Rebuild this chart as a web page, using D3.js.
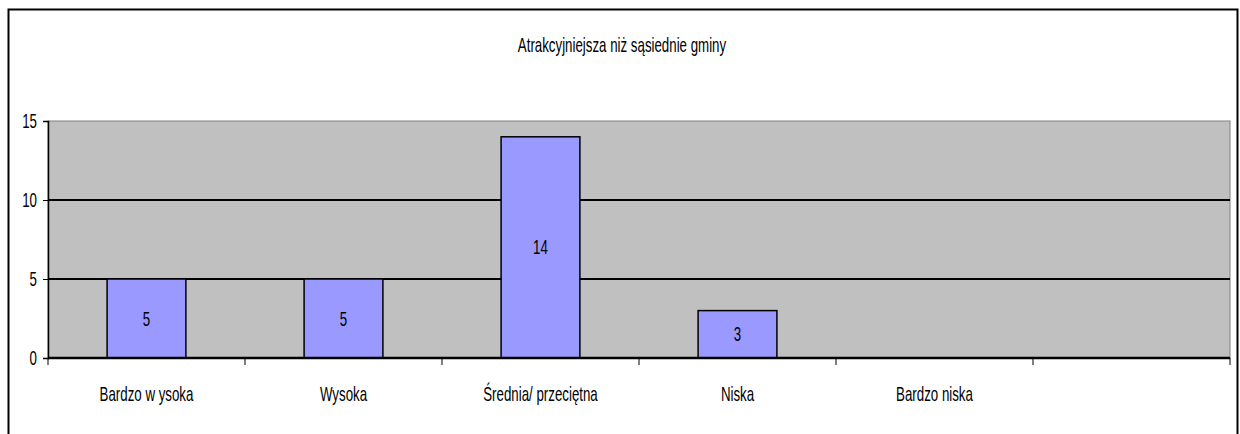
<!DOCTYPE html>
<html lang="pl">
<head>
<meta charset="UTF-8">
<title>Atrakcyjniejsza niż sąsiednie gminy</title>
<script src="https://d3js.org/d3.v7.min.js"></script>
<style>
  body { margin: 0; background: #fff; }
  svg text { font-family: "Liberation Sans", Arial, sans-serif; font-size: 20px; fill: #000; }
</style>
</head>
<body>
<svg width="1240" height="434"></svg>
<script>
  // data
  const title = "Atrakcyjniejsza niż sąsiednie gminy";
  const categories = ["Bardzo w ysoka", "Wysoka", "Średnia/ przeciętna", "Niska", "Bardzo niska", ""];
  const values = [5, 5, 14, 3, null, null];
  const yTicks = [0, 5, 10, 15];

  const svg = d3.select("svg");
  const plot = { left: 48, top: 121, right: 1230, bottom: 358 };
  const narrow = 0.665; // squeeze text horizontally, like Arial Narrow

  // narrow text helper
  function ntext(g, x, y, anchor, str) {
    return g.append("text")
      .attr("transform", `translate(${x},${y}) scale(${narrow},1)`)
      .attr("text-anchor", anchor)
      .text(str);
  }

  // outer frame
  svg.append("rect")
    .attr("x", 8.5).attr("y", 9.5)
    .attr("width", 1229).attr("height", 440)
    .attr("fill", "none").attr("stroke", "#000").attr("stroke-width", 2);

  ntext(svg, 622, 52, "middle", title);

  const x = d3.scaleBand()
    .domain(d3.range(categories.length))
    .range([plot.left, plot.right])
    .paddingInner(0.6).paddingOuter(0.3);

  const y = d3.scaleLinear().domain([0, 15]).range([plot.bottom, plot.top]);

  // plot area
  svg.append("rect")
    .attr("x", plot.left).attr("y", plot.top)
    .attr("width", plot.right - plot.left).attr("height", plot.bottom - plot.top)
    .attr("fill", "#c0c0c0").attr("stroke", "#808080").attr("stroke-width", 1);

  // gridlines
  svg.append("g").selectAll("line")
    .data(yTicks.filter(d => d > 0 && d < 15))
    .enter().append("line")
    .attr("x1", plot.left).attr("x2", plot.right)
    .attr("y1", d => y(d)).attr("y2", d => y(d))
    .attr("stroke", "#000").attr("stroke-width", 2);

  // y axis
  const yAxis = svg.append("g")
    .attr("transform", `translate(${plot.left},0)`)
    .call(d3.axisLeft(y).tickValues(yTicks).tickSize(5));
  yAxis.select(".domain").attr("stroke", "#000").attr("stroke-width", 1.5);
  yAxis.selectAll(".tick text").remove();
  const yLab = svg.append("g");
  yTicks.forEach(t => ntext(yLab, 37, y(t) + 7, "end", t));

  // bars
  const barData = values.map((v, i) => ({ i, v })).filter(d => d.v != null);
  svg.append("g").selectAll("rect")
    .data(barData)
    .enter().append("rect")
    .attr("x", d => x(d.i))
    .attr("y", d => y(d.v))
    .attr("width", x.bandwidth())
    .attr("height", d => y(0) - y(d.v))
    .attr("fill", "#9999ff").attr("stroke", "#000").attr("stroke-width", 1.5);

  const valLab = svg.append("g");
  barData.forEach(d => {
    ntext(valLab, x(d.i) + x.bandwidth() / 2, (y(d.v) + y(0)) / 2 + 7, "middle", d.v);
  });

  // x axis
  const step = (plot.right - plot.left) / categories.length;
  svg.append("line")
    .attr("x1", plot.left).attr("x2", plot.right)
    .attr("y1", plot.bottom).attr("y2", plot.bottom)
    .attr("stroke", "#000").attr("stroke-width", 2.5);
  svg.append("g").selectAll("line")
    .data(d3.range(categories.length + 1))
    .enter().append("line")
    .attr("x1", d => plot.left + d * step).attr("x2", d => plot.left + d * step)
    .attr("y1", plot.bottom).attr("y2", plot.bottom + 7)
    .attr("stroke", "#000").attr("stroke-width", 1);

  const xLab = svg.append("g");
  categories.forEach((c, i) => ntext(xLab, x(i) + x.bandwidth() / 2, 401, "middle", c));
</script>
</body>
</html>
